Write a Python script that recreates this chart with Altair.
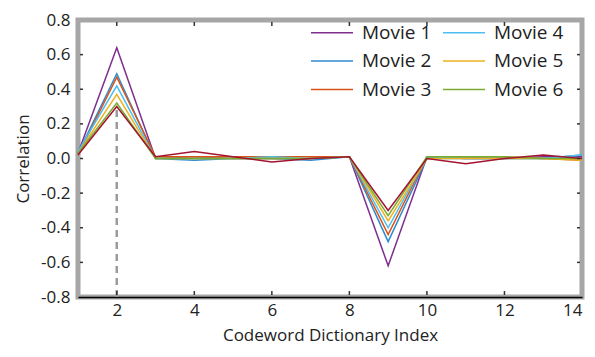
import altair as alt
import pandas as pd

x_index = list(range(1, 15))
series_names = ["Movie 1", "Movie 2", "Movie 3", "Movie 4", "Movie 5", "Movie 6"]
movie1 = [0.03, 0.64, 0.00, 0.01, 0.00, 0.00, 0.00, 0.01, -0.62, 0.01, 0.00, 0.00, 0.01, 0.01]
movie2 = [0.03, 0.49, 0.00, -0.01, 0.00, 0.00, -0.01, 0.01, -0.48, 0.00, 0.00, 0.00, 0.00, 0.02]
movie3 = [0.02, 0.47, 0.01, 0.01, 0.01, 0.01, 0.01, 0.01, -0.44, 0.01, 0.01, 0.01, 0.00, -0.01]
movie4 = [0.04, 0.42, 0.00, 0.00, 0.00, 0.01, 0.00, 0.01, -0.40, 0.01, 0.00, 0.00, 0.00, 0.02]
movie5 = [0.03, 0.37, 0.00, 0.00, 0.00, 0.00, 0.00, 0.01, -0.36, 0.00, 0.00, 0.00, 0.00, -0.01]
movie6 = [0.03, 0.32, 0.00, 0.00, 0.00, 0.00, 0.00, 0.01, -0.33, 0.01, 0.01, 0.01, 0.00, 0.00]
extra_red = [0.02, 0.30, 0.01, 0.04, 0.01, -0.02, 0.00, 0.01, -0.30, 0.00, -0.03, 0.00, 0.02, 0.00]
all_series = [movie1, movie2, movie3, movie4, movie5, movie6]
colors = ["#7E2F8E", "#2E8BCF", "#D95319", "#4DBEEE", "#EDB120", "#77AC30"]
x_ticks = [2, 4, 6, 8, 10, 12, 14]
y_ticks = [-0.8, -0.6, -0.4, -0.2, 0.0, 0.2, 0.4, 0.6, 0.8]
marker_x = 2
marker_y = [-0.8, 0.3]

rows = []
for name, vals in zip(series_names, all_series):
    for xi, v in zip(x_index, vals):
        rows.append({"idx": xi, "corr": v, "movie": name})
df = pd.DataFrame(rows)
df_red = pd.DataFrame({"idx": x_index, "corr": extra_red})
df_dash = pd.DataFrame({"idx": [marker_x], "corr": [marker_y[0]], "y2": [marker_y[1]]})
df_xt = pd.DataFrame({"idx": x_ticks[:-1]})
df_yt = pd.DataFrame({"corr": y_ticks[1:-1]})

FONT = "Open Sans"
W, H = 504, 277
xscale = alt.Scale(domain=[1, 14], nice=False)
yscale = alt.Scale(domain=[-0.8, 0.8], nice=False)

xaxis = alt.Axis(values=x_ticks, title="Codeword Dictionary Index", grid=False,
                 ticks=False, domainColor="#000000", domainWidth=1.5,
                 labelPadding=5, titlePadding=9, labelOverlap=False)
yaxis = alt.Axis(values=y_ticks, title="Correlation", grid=False,
                 ticks=False, domain=False, labelPadding=8, titlePadding=8,
                 labelOverlap=False,
                 labelExpr="replace(format(datum.value, '.1f'), '\u2212', '-')")
xenc = alt.X("idx:Q", scale=xscale, axis=xaxis)
yenc = alt.Y("corr:Q", scale=yscale, axis=yaxis)

lines = alt.Chart(df).mark_line(strokeWidth=1.5).encode(
    x=xenc, y=yenc,
    color=alt.Color("movie:N",
                    scale=alt.Scale(domain=series_names, range=colors),
                    legend=alt.Legend(title=None, orient="none", legendX=232, legendY=1,
                                      columns=2, symbolType="M-1,0H3", symbolSize=441,
                                      symbolStrokeWidth=1.5, labelFontSize=19, labelFont=FONT,
                                      labelColor="#222222", labelOffset=29, columnPadding=8,
                                      rowPadding=6.5)),
    order=alt.Order("movie:N"))

dash = alt.Chart(df_dash).mark_rule(color="#9a9a9a", strokeWidth=2.5, strokeDash=[7, 5]).encode(
    x=xenc, y=yenc, y2="y2:Q")

red = alt.Chart(df_red).mark_line(color="#A2142F", strokeWidth=1.5).encode(x=xenc, y=yenc)

tick_style = dict(color="#333333", strokeWidth=1.5)
top_ticks = alt.Chart(df_xt).mark_rule(**tick_style).encode(
    x=xenc, y=alt.value(2), y2=alt.value(6))
bot_ticks = alt.Chart(df_xt).mark_rule(**tick_style).encode(
    x=xenc, y=alt.value(H - 2), y2=alt.value(H - 6))
left_ticks = alt.Chart(df_yt).mark_rule(**tick_style).encode(
    y=yenc, x=alt.value(2), x2=alt.value(5))
right_ticks = alt.Chart(df_yt).mark_rule(**tick_style).encode(
    y=yenc, x=alt.value(W - 2), x2=alt.value(W - 5))

chart = alt.layer(lines, dash, red, top_ticks, bot_ticks, left_ticks, right_ticks).properties(
    width=W, height=H,
    autosize=alt.AutoSizeParams(type="none"),
    padding={"left": 70, "top": 12, "right": 5, "bottom": 52},
).configure_view(
    stroke="#a6a6a6", strokeWidth=5
).configure_axis(
    labelFont=FONT, titleFont=FONT, labelFontSize=17, titleFontSize=17,
    labelColor="#222222", titleColor="#222222", titleFontWeight="normal",
    labelOverlap=False
)

chart.save("out.html", embed_options={"renderer": "svg", "actions": False})
